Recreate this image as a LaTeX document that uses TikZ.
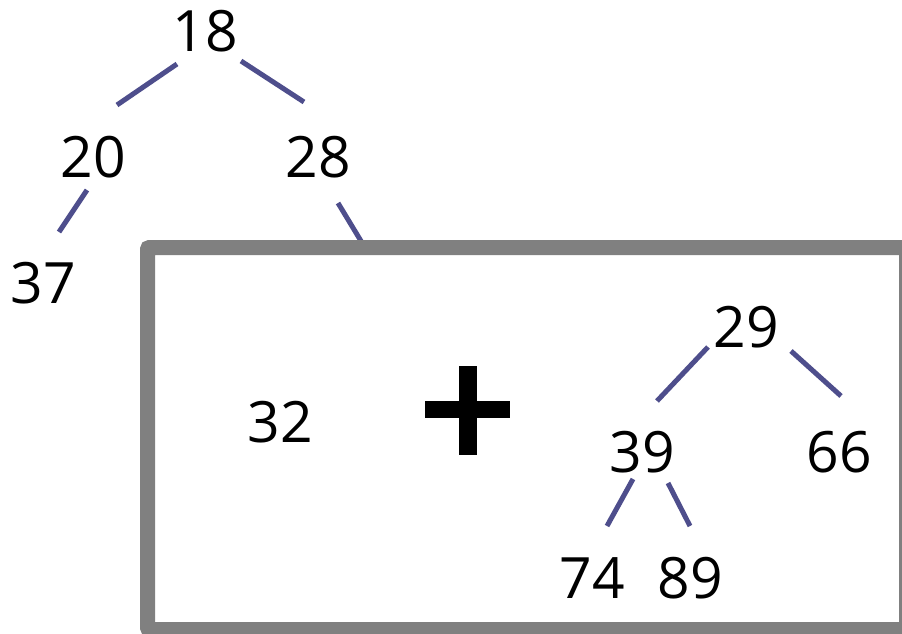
\documentclass[tikz,border=0pt]{standalone}
\usepackage{fontspec}
\setmainfont{Open Sans}
\definecolor{edgeblue}{RGB}{78,78,140}
\definecolor{boxgray}{RGB}{128,128,128}
\begin{document}
\begin{tikzpicture}[x=1pt,y=-1pt,
  num/.style={inner sep=0pt, anchor=base, font=\fontsize{57}{57}\selectfont},
  edge/.style={draw=edgeblue, line width=5pt}]
\useasboundingbox (0,0) rectangle (902,634);
\begin{scope}
\clip (0,0) rectangle (902,634);
% tree edges (drawn before box so the 28 edge goes under it)
\coordinate (e1a) at (177,64); \coordinate (e1b) at (117,105);
\coordinate (e2a) at (241,61); \coordinate (e2b) at (304,102);
\coordinate (e3a) at (87,190); \coordinate (e3b) at (59,232);
\coordinate (e4a) at (338,203); \coordinate (e4b) at (364,246);
\draw[edge] (e1a) -- (e1b);
\draw[edge] (e2a) -- (e2b);
\draw[edge] (e3a) -- (e3b);
\draw[edge] (e4a) -- (e4b);
% box
\draw[draw=boxgray, line width=15pt, fill=white, rounded corners=2pt]
  (147.5,247.5) rectangle (906.5,629.5);
\end{scope}
% numbers
\node[num] (n18) at (205,52) {18};
\node[num] (n20) at (93,177) {20};
\node[num] (n28) at (318,177) {28};
\node[num] (n37) at (43,303) {37};
\node[num] (n32) at (280,442) {32};
\node[num] (n29) at (746,347) {29};
\node[num] (n39) at (642,472) {39};
\node[num] (n66) at (839,472) {66};
\node[num] (n74) at (592,598) {74};
\node[num] (n89) at (690,598) {89};
% plus sign
\node[fill=black, minimum width=85pt, minimum height=17pt, inner sep=0pt] (plush) at (467.5,409.5) {};
\node[fill=black, minimum width=18pt, minimum height=89pt, inner sep=0pt] (plusv) at (468,410.5) {};
% inner tree edges
\coordinate (f1a) at (708,347); \coordinate (f1b) at (657,401);
\coordinate (f2a) at (791,351); \coordinate (f2b) at (841,396);
\coordinate (f3a) at (633,479); \coordinate (f3b) at (607,526);
\coordinate (f4a) at (668,483); \coordinate (f4b) at (690,526);
\draw[edge] (f1a) -- (f1b);
\draw[edge] (f2a) -- (f2b);
\draw[edge] (f3a) -- (f3b);
\draw[edge] (f4a) -- (f4b);
\end{tikzpicture}
\end{document}
